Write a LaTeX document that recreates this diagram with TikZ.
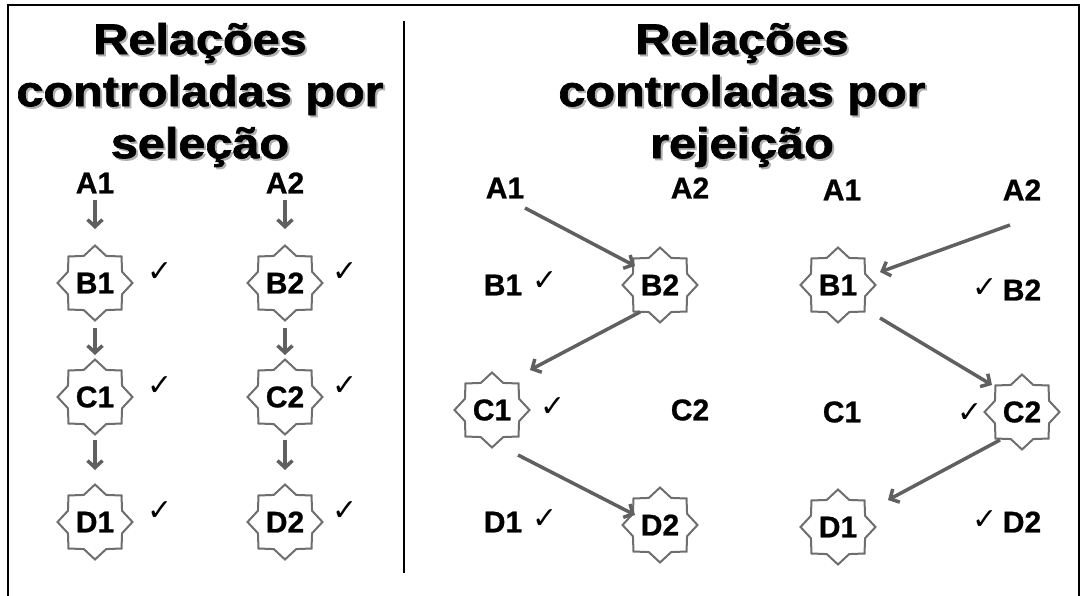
\documentclass[tikz,border=0pt]{standalone}
\usepackage{fontspec}
\setmainfont{Liberation Sans}
\newfontfamily\ckfont{DejaVu Sans}
\newfontfamily\labfont[BoldFeatures={FakeBold=0.8}]{Liberation Sans}
\newfontfamily\titlefont[FakeStretch=1.13,BoldFeatures={FakeBold=1.6}]{Liberation Sans}
\usetikzlibrary{shapes.geometric,arrows.meta,calc}
\definecolor{arrgray}{HTML}{606060}
\definecolor{stargray}{HTML}{6E6E6E}
\definecolor{shadgray}{HTML}{B0B0B0}
\tikzset{
  lab/.style={inner sep=0pt,font=\labfont\fontsize{30}{32}\selectfont\bfseries},
  starbox/.style={star,star points=8,star point ratio=1.28,minimum size=75pt,inner sep=0pt,
    draw=stargray,line width=2pt,fill=white,font=\labfont\fontsize{30}{32}\selectfont\bfseries},
  ck/.style={inner sep=0pt,font=\ckfont\fontsize{30}{32}\selectfont},
  arr/.style={draw=arrgray,line width=3.5pt,-{Straight Barb[length=7pt,width=15pt]}},
  ttl/.style={align=center,inner sep=0pt,font=\titlefont\bfseries\fontsize{43}{52}\selectfont},
  ttlshadow/.style={ttl,text=shadgray}
}
\begin{document}
\begin{tikzpicture}[x=1pt,y=-1pt]
\useasboundingbox (0,0) rectangle (1081,596);
% frame and divider
\draw[line width=2pt] (8,605) -- (8,5) -- (1079,5) -- (1079,605);
\draw[line width=2.5pt] (404,21) -- (404,573);
% titles
\node[ttlshadow] (tLs) at (202,97) {Relações\\controladas por\\seleção};
\node[ttl] (tL) at (200,95) {Relações\\controladas por\\seleção};
\node[ttlshadow] (tRs) at (744,97) {Relações\\controladas por\\rejeição};
\node[ttl] (tR) at (742,95) {Relações\\controladas por\\rejeição};
% ---------- left panel ----------
\node[lab] (lA1) at (95,183) {A1};
\node[lab] (lA2) at (285,183) {A2};
\node[starbox] (lB1) at (95,283) {B1};
\node[starbox] (lB2) at (285,283) {B2};
\node[starbox] (lC1) at (95,397) {C1};
\node[starbox] (lC2) at (285,397) {C2};
\node[starbox] (lD1) at (95,522) {D1};
\node[starbox] (lD2) at (285,522) {D2};
\node[ck] (k1) at (160,272) {✓};
\node[ck] (k2) at (345,272) {✓};
\node[ck] (k3) at (160,386) {✓};
\node[ck] (k4) at (345,386) {✓};
\node[ck] (k5) at (160,511) {✓};
\node[ck] (k6) at (345,511) {✓};
\draw[arr] ([shift={(0,17)}]lA1.center) -- ([shift={(0,-54)}]lB1.center);
\draw[arr] ([shift={(0,17)}]lA2.center) -- ([shift={(0,-54)}]lB2.center);
\draw[arr] ([shift={(0,45)}]lB1.center) -- ([shift={(0,-42)}]lC1.center);
\draw[arr] ([shift={(0,45)}]lB2.center) -- ([shift={(0,-42)}]lC2.center);
\draw[arr] ([shift={(0,43)}]lC1.center) -- ([shift={(0,-52)}]lD1.center);
\draw[arr] ([shift={(0,43)}]lC2.center) -- ([shift={(0,-52)}]lD2.center);
% ---------- right panel, first pair ----------
\node[lab] (rA1) at (505,188) {A1};
\node[lab] (rA2) at (690,188) {A2};
\node[lab] (rB1) at (503,285) {B1};
\node[ck] (rk1) at (545,281) {✓};
\node[starbox] (rB2) at (660,285) {B2};
\node[starbox] (rC1) at (492,410) {C1};
\node[ck] (rk2) at (553,407) {✓};
\node[lab] (rC2) at (690,410) {C2};
\node[lab] (rD1) at (503,522) {D1};
\node[ck] (rk3) at (545,519) {✓};
\node[starbox] (rD2) at (660,525) {D2};
\draw[arr] ([shift={(20,20)}]rA1.center) -- ([shift={(-25,-19)}]rB2.center);
\draw[arr] ([shift={(-20,27)}]rB2.center) -- ([shift={(38,-40)}]rC1.center);
\draw[arr] ([shift={(26,45)}]rC1.center) -- ([shift={(-25,-10)}]rD2.center);
% ---------- right panel, second pair ----------
\node[lab] (sA1) at (842,190) {A1};
\node[lab] (sA2) at (1022,190) {A2};
\node[starbox] (sB1) at (838,285) {B1};
\node[ck] (sk1) at (985,288) {✓};
\node[lab] (sB2) at (1022,290) {B2};
\node[lab] (sC1) at (842,412) {C1};
\node[ck] (sk2) at (970,413) {✓};
\node[starbox] (sC2) at (1022,412) {C2};
\node[starbox] (sD1) at (838,527) {D1};
\node[ck] (sk3) at (985,520) {✓};
\node[lab] (sD2) at (1022,522) {D2};
\draw[arr] ([shift={(-12,35)}]sA2.center) -- ([shift={(42,-13)}]sB1.center);
\draw[arr] ([shift={(42,33)}]sB1.center) -- ([shift={(-30,-27)}]sC2.center);
\draw[arr] ([shift={(-22,28)}]sC2.center) -- ([shift={(50,-27)}]sD1.center);
\end{tikzpicture}
\end{document}
